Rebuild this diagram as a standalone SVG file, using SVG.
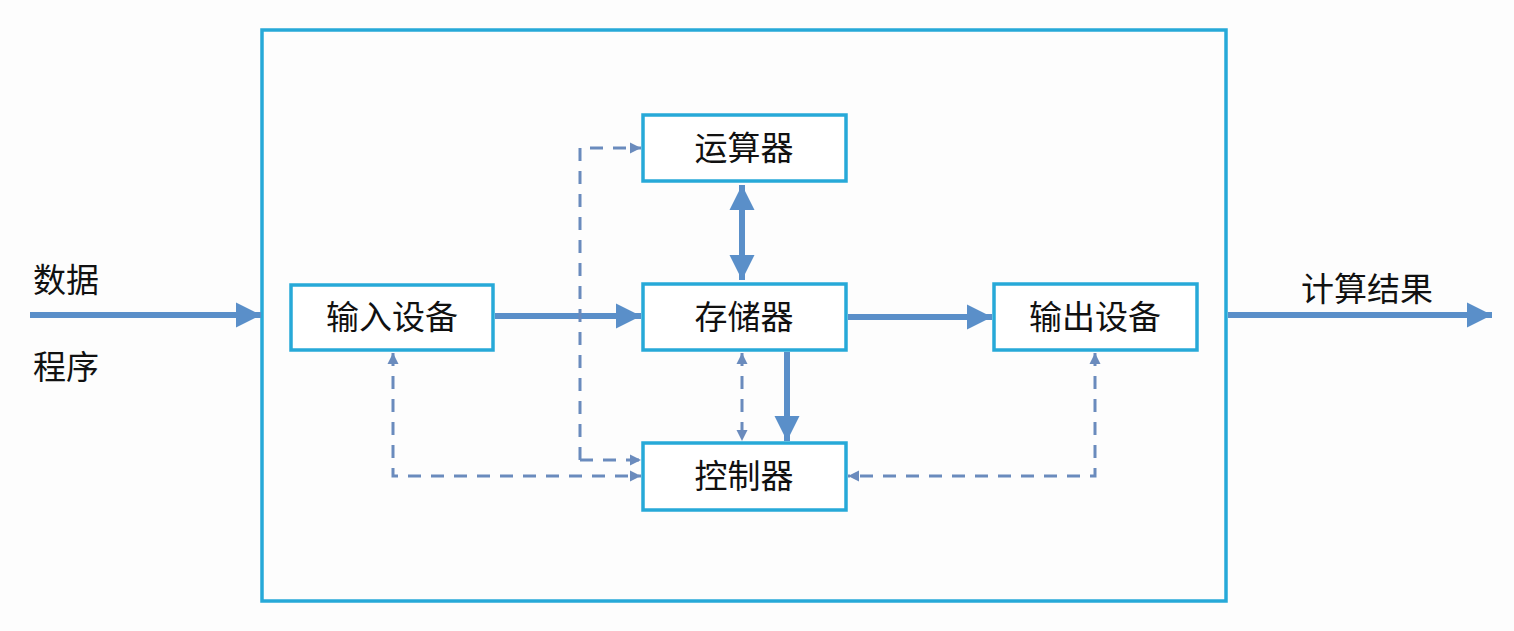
<svg xmlns="http://www.w3.org/2000/svg" width="1514" height="631" viewBox="0 0 1514 631">
<style>
.box{fill:#fff;stroke:#27a9d8;stroke-width:3.5}
.lbl{font-family:"Liberation Sans","Noto Sans CJK SC",sans-serif;font-size:33px;fill:#111;text-anchor:middle;dominant-baseline:central}
.thick{stroke:#5a8fc9;stroke-width:6;fill:none}
.dash{stroke:#6a8bbd;stroke-width:3;fill:none;stroke-dasharray:13 10}
</style>
<defs>
<marker id="big" viewBox="0 0 10 10" refX="10" refY="5" markerWidth="4.2" markerHeight="4.5" orient="auto-start-reverse" markerUnits="strokeWidth">
<path d="M0,0 L10,5 L0,10 Z" fill="#5a8fc9"/>
</marker>
<marker id="small" viewBox="0 0 10 10" refX="10" refY="5" markerWidth="3.8" markerHeight="3.8" orient="auto-start-reverse" markerUnits="strokeWidth">
<path d="M0,0 L10,5 L0,10 Z" fill="#6a8bbd"/>
</marker>
</defs>
<rect width="1514" height="631" fill="#fdfdfd"/>
<rect id="frame" x="262" y="30" width="964" height="571" fill="none" stroke="#27a9d8" stroke-width="3.5"/>
<g id="connectors">
<line class="thick" x1="30" y1="315" x2="261" y2="315" marker-end="url(#big)"/>
<line class="thick" x1="495" y1="316" x2="641" y2="316" marker-end="url(#big)"/>
<line class="thick" x1="848" y1="317" x2="992" y2="317" marker-end="url(#big)"/>
<line class="thick" x1="1228" y1="315" x2="1492" y2="315" marker-end="url(#big)"/>
<line class="thick" x1="742" y1="185" x2="742" y2="280" marker-start="url(#big)" marker-end="url(#big)"/>
<line class="thick" x1="787" y1="352" x2="787" y2="441" marker-end="url(#big)"/>
<polyline class="dash" points="580,460 580,148 641,148" marker-end="url(#small)"/>
<polyline class="dash" points="580,460 641,460" marker-end="url(#small)"/>
<polyline class="dash" points="393,353 393,476 641,476" marker-start="url(#small)" marker-end="url(#small)"/>
<polyline class="dash" points="1095,353 1095,476 848,476" marker-start="url(#small)" marker-end="url(#small)"/>
<line class="dash" x1="742" y1="353" x2="742" y2="441" marker-start="url(#small)" marker-end="url(#small)"/>
</g>
<g id="alu"><rect class="box" x="643" y="115" width="203" height="66"/><text class="lbl" x="744" y="148">运算器</text></g>
<g id="input"><rect class="box" x="291" y="285" width="202" height="65"/><text class="lbl" x="392" y="317">输入设备</text></g>
<g id="memory"><rect class="box" x="643" y="284" width="203" height="66"/><text class="lbl" x="744" y="317">存储器</text></g>
<g id="output"><rect class="box" x="994" y="284" width="203" height="66"/><text class="lbl" x="1095" y="317">输出设备</text></g>
<g id="control"><rect class="box" x="643" y="443" width="203" height="67"/><text class="lbl" x="744" y="476">控制器</text></g>
<g id="labels">
<text class="lbl" x="66" y="280">数据</text>
<text class="lbl" x="66" y="367">程序</text>
<text class="lbl" x="1367" y="289">计算结果</text>
</g>
</svg>
